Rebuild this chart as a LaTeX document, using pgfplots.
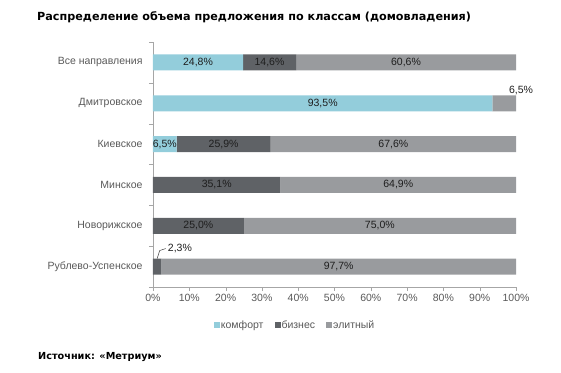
\documentclass[border=0pt]{standalone}
\usepackage{pgfplots}
\pgfplotsset{compat=1.18}
\usepackage{fontspec}
\setmainfont{Liberation Sans}
\newfontfamily\titlefont{DejaVu Sans}
\definecolor{comfort}{HTML}{93CDDB}
\definecolor{biz}{HTML}{5F6266}
\definecolor{elite}{HTML}{999B9E}
\definecolor{axgray}{HTML}{A6A6A6}
\definecolor{lbl}{HTML}{595959}
\definecolor{val}{HTML}{1E1E1E}
\begin{document}
\begin{tikzpicture}
\path[use as bounding box] (-153pt,-85pt) rectangle (408pt,287pt);
\begin{axis}[
  at={(0,0)}, anchor=south west,
  scale only axis, width=363pt, height=245pt,
  clip=false,
  xbar stacked, bar width=16pt,
  xmin=0, xmax=100, ymin=-0.5, ymax=5.5, y dir=reverse,
  axis lines*=left, axis line style={axgray},
  tick align=outside, major tick length=4pt, tick style={axgray},
  xtick={0,10,...,100}, xticklabel={\pgfmathprintnumber{\tick}\%},
  /pgf/number format/assume math mode=true,
  ytick={-0.5,0.5,...,5.5}, yticklabels={},
  extra y ticks={0,1,2,3,4,5},
  extra y tick labels={Все направления,Дмитровское,Киевское,Минское,Новорижское,Рублево-Успенское},
  extra y tick style={major tick length=0pt},
  yticklabel style={xshift=-7pt},
  tick label style={font=\fontsize{10.5}{12}\selectfont, text=lbl},
  legend style={at={(0.39,-0.155)}, anchor=center, draw=none, legend columns=-1,
    font=\fontsize{10.5}{12}\selectfont, text=lbl,
    /tikz/every even column/.append style={column sep=10pt},
    nodes={inner sep=1pt}},
  legend image code/.code={\fill[#1] (0pt,-3pt) rectangle (6pt,3pt);},
  point meta=explicit symbolic,
  nodes near coords,
  every node near coord/.append style={font=\fontsize{10.5}{12}\selectfont, text=val},
]
\addplot[fill=comfort, draw=none] coordinates {
  (24.8,0) [24,8\%]
  (93.5,1) [93,5\%]
  (6.5,2)  [6,5\%]
  (0,3) []
  (0,4) []
  (0,5) []
};
\addplot[fill=biz, draw=none] coordinates {
  (14.6,0) [14,6\%]
  (0,1) []
  (25.9,2) [25,9\%]
  (35.1,3) [35,1\%]
  (25.0,4) [25,0\%]
  (2.3,5) []
};
\addplot[fill=elite, draw=none] coordinates {
  (60.6,0) [60,6\%]
  (6.5,1) []
  (67.6,2) [67,6\%]
  (64.9,3) [64,9\%]
  (75.0,4) [75,0\%]
  (97.7,5) [97,7\%]
};
\legend{комфорт,бизнес,элитный}
\node[font=\fontsize{10.5}{12}\selectfont, text=val] at (axis cs:100,1) [xshift=5pt, yshift=13pt] {6,5\%};
\draw[black!80, line width=0.5pt] (axis cs:1.15,5) ++(0pt,8pt) -- ++(2.5pt,8pt) -- ++(6pt,2pt)
  node[font=\fontsize{10.5}{12}\selectfont, text=val, anchor=west, inner sep=2pt] {2,3\%};
\end{axis}
\node[anchor=west, inner sep=0pt, font=\titlefont\bfseries\fontsize{11.2}{13}\selectfont] at (-116pt,270pt) {Распределение объема предложения по классам (домовладения)};
\node[anchor=west, inner sep=0pt, font=\titlefont\bfseries\fontsize{9.7}{12}\selectfont] at (-115pt,-70pt) {Источник: «Метриум»};
\end{tikzpicture}
\end{document}
